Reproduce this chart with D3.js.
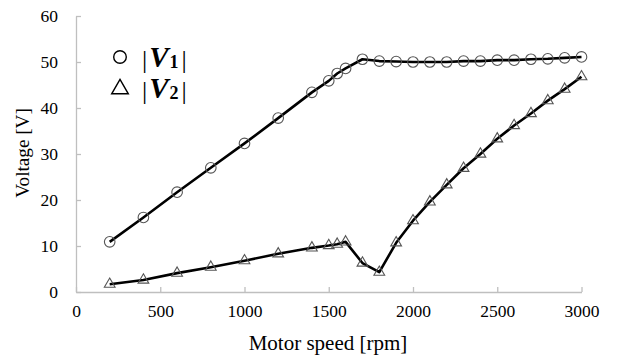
<!DOCTYPE html>
<html><head><meta charset="utf-8">
<script src="https://cdn.jsdelivr.net/npm/d3@7"></script>
<style>body{margin:0;background:#fff}svg{display:block}
svg text{font-family:"Liberation Serif","Times New Roman","DejaVu Serif",serif !important;}
</style>
</head><body><svg id="c" width="617" height="356"></svg>
<script>
const speeds = [200,400,600,800,1000,1200,1400,1500,1550,1600,1700,1800,1900,2000,2100,2200,2300,2400,2500,2600,2700,2800,2900,3000];
const v1 = [10.9,16.2,21.7,27.0,32.3,37.8,43.4,45.9,47.5,48.6,50.6,50.2,50.1,50.0,50.0,50.0,50.2,50.2,50.4,50.4,50.6,50.7,50.9,51.1];
const v2 = [1.7,2.6,4.1,5.4,6.8,8.3,9.6,10.1,10.4,10.9,6.3,4.3,10.7,15.5,19.6,23.3,26.9,30.0,33.3,36.2,38.8,41.6,44.1,46.8];
const xTicks = [0,500,1000,1500,2000,2500,3000];
const yTicks = [0,10,20,30,40,50,60];
const xTitle = "Motor speed [rpm]";
const yTitle = "Voltage [V]";

const svg = d3.select("#c");
const x = d3.scaleLinear().domain([0,3000]).range([76,581.5]);
const y = d3.scaleLinear().domain([0,60]).range([292,16]);
const axisCol = "#bfbfbf";

// x axis
const gx = svg.append("g").attr("transform","translate(0,292)")
  .call(d3.axisBottom(x).tickValues(xTicks).tickFormat(d3.format("d")).tickSizeInner(-5).tickSizeOuter(0).tickPadding(13));
gx.select(".domain").attr("stroke",axisCol).attr("stroke-width",1.3);
gx.selectAll(".tick line").attr("stroke",axisCol).attr("stroke-width",1.3);
gx.selectAll(".tick text").attr("font-size",17.5).attr("fill","#000");

// y axis
const gy = svg.append("g").attr("transform","translate(76,0)")
  .call(d3.axisLeft(y).tickValues(yTicks).tickFormat(d3.format("d")).tickSizeInner(-5).tickSizeOuter(0).tickPadding(18));
gy.select(".domain").attr("stroke",axisCol).attr("stroke-width",1.3);
gy.selectAll(".tick line").attr("stroke",axisCol).attr("stroke-width",1.3);
gy.selectAll(".tick text").attr("font-size",17.5).attr("fill","#000");

// titles
svg.append("text").attr("x",328).attr("y",350).attr("text-anchor","middle")
  .attr("font-size",21).text(xTitle);
svg.append("text").attr("transform","translate(29,153) rotate(-90)").attr("text-anchor","middle")
  .attr("font-size",19.2).text(yTitle);

const d1 = speeds.map((s,i)=>[s,v1[i]]);
const d2 = speeds.map((s,i)=>[s,v2[i]]);
const line = d3.line().x(d=>x(d[0])).y(d=>y(d[1]));

[d1,d2].forEach(d=>{
  svg.append("path").datum(d).attr("d",line).attr("fill","none")
    .attr("stroke","#000").attr("stroke-width",2.6).attr("stroke-linejoin","round");
});

const markCol = "#555";
svg.append("g").selectAll("circle").data(d1).join("circle")
  .attr("cx",d=>x(d[0])).attr("cy",d=>y(d[1])).attr("r",5.3)
  .attr("fill","none").attr("stroke",markCol).attr("stroke-width",1.1);

const tri = d3.symbol().type(d3.symbolTriangle).size(50);
svg.append("g").selectAll("path").data(d2).join("path")
  .attr("transform",d=>`translate(${x(d[0])},${y(d[1])})`).attr("d",tri)
  .attr("fill","none").attr("stroke",markCol).attr("stroke-width",1.1);

// legend
const legend = [{name:"1",sym:"circle",cy:57},{name:"2",sym:"tri",cy:88}];
legend.forEach(l=>{
  if(l.sym==="circle"){
    svg.append("circle").attr("cx",120).attr("cy",l.cy).attr("r",6.3)
      .attr("fill","none").attr("stroke","#000").attr("stroke-width",1.4);
  } else {
    svg.append("path").attr("transform",`translate(120,${l.cy+1})`)
      .attr("d",d3.symbol().type(d3.symbolTriangle).size(120)())
      .attr("fill","none").attr("stroke","#000").attr("stroke-width",1.4);
  }
  const t = svg.append("text").attr("x",142).attr("y",l.cy+11)
    .attr("font-size",26);
  t.append("tspan").text("|");
  t.append("tspan").attr("dx",2).attr("dy",-1).attr("font-weight","bold").attr("font-style","italic").attr("font-size",29).text("V");
  t.append("tspan").attr("dx",1).attr("font-weight","bold").attr("font-size",18).attr("dy",1).text(l.name);
  t.append("tspan").attr("dx",3).text("|");
});
</script></body></html>
